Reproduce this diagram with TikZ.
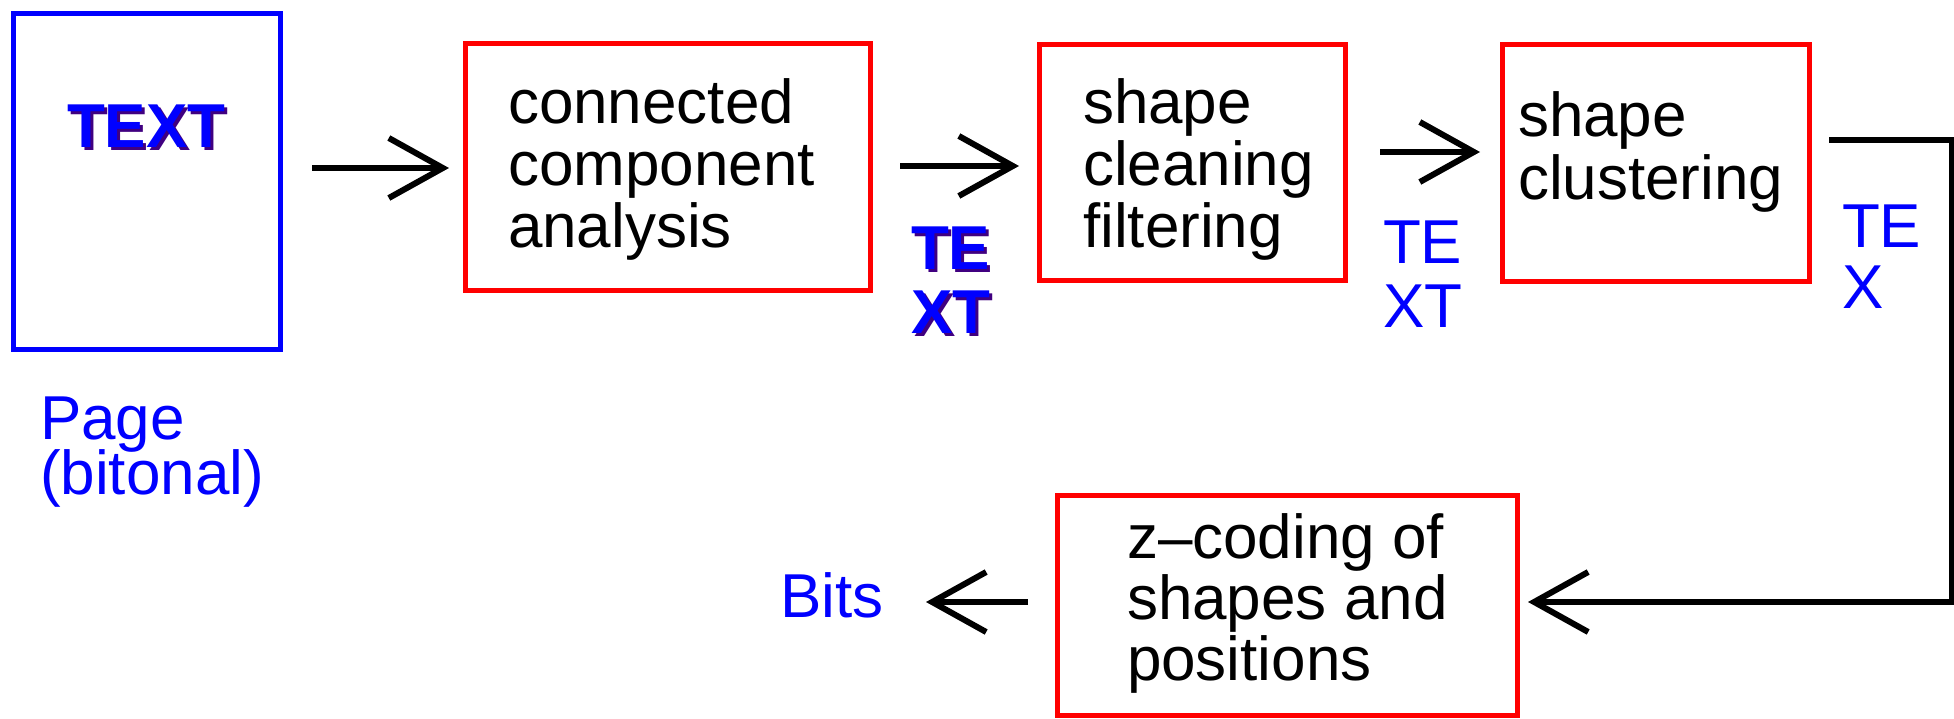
\documentclass[tikz,border=0pt]{standalone}
\usepackage{fontspec}
\setmainfont{Liberation Sans}
\usetikzlibrary{arrows.meta}
\definecolor{pblue}{RGB}{0,0,255}
\definecolor{pred}{RGB}{255,0,0}
\definecolor{pshadow}{RGB}{64,0,128}
\newcommand{\mlines}[2]{\vtop{\baselineskip=#1\lineskiplimit=-1000pt\lineskip=0pt\halign{##\hfil\cr#2\crcr}}}
\begin{document}
\begin{tikzpicture}[x=1pt,y=-1pt,
  box/.style={draw=pred,line width=5pt,inner sep=0pt,outer sep=0pt,rectangle},
  txt/.style={inner sep=0pt,outer sep=0pt,anchor=base west,font=\fontsize{62}{62}\selectfont},
  lbl/.style={txt,text=pblue},
  bold/.style={txt,font=\fontsize{62}{62}\selectfont\bfseries},
  arr/.style={line width=6pt,-{Straight Barb[length=54pt,width=60pt]}},
]
\useasboundingbox (0,0) rectangle (1954,718);
% page
\node[draw=pblue,line width=5pt,inner sep=0pt,outer sep=0pt,minimum width=266.5pt,minimum height=336.5pt] (page) at (146.75,181.25) {};
\node[bold,text=pshadow] (ptextsh) at (70,150) {TEXT};
\node[bold,text=pblue] (ptext) at (67,147) {TEXT};
\node[lbl] (pagelbl) at (40,439) {\mlines{55pt}{Page\cr (bitonal)}};
% boxes
\node[box,minimum width=405pt,minimum height=247pt] (b1) at (668,167) {};
\node[box,minimum width=306pt,minimum height=236pt] (b2) at (1192.5,162.5) {};
\node[box,minimum width=307pt,minimum height=237pt] (b3) at (1656,163) {};
\node[box,minimum width=460pt,minimum height=219.5pt] (b4) at (1287.5,605.25) {};
\node[txt] (t1) at (508,123) {\mlines{62pt}{connected\cr component\cr analysis}};
\node[txt] (t2) at (1083,123) {\mlines{62pt}{shape\cr cleaning\cr filtering}};
\node[txt] (t3) at (1518,136) {\mlines{63pt}{shape\cr clustering}};
\node[txt] (t4) at (1127,558) {\mlines{61pt}{z–coding of\cr shapes and\cr positions}};
% labels
\node[bold,text=pshadow] (l1sh) at (914,272) {\mlines{64pt}{TE\cr XT}};
\node[bold,text=pblue] (l1) at (911,269) {\mlines{64pt}{TE\cr XT}};
\node[lbl] (l2) at (1383,263) {\mlines{64pt}{TE\cr XT}};
\node[lbl] (l3) at (1842,247) {\mlines{61pt}{TE\cr X}};
\node[lbl] (bits) at (780,617) {Bits};
% connectors
\coordinate (a1s) at (312,168); \coordinate (a1e) at (449,168);
\coordinate (a2s) at (900,166); \coordinate (a2e) at (1019,166);
\coordinate (a3s) at (1380,152); \coordinate (a3e) at (1480,152);
\coordinate (c3s) at (1829,140); \coordinate (c3r) at (1952,602); \coordinate (c3e) at (1528,602);
\coordinate (a5s) at (1028,602); \coordinate (a5e) at (926,602);
\draw[arr] (a1s) -- (a1e);
\draw[arr] (a2s) -- (a2e);
\draw[arr] (a3s) -- (a3e);
\draw[arr] (c3s) -| (c3r) -- (c3e);
\draw[arr] (a5s) -- (a5e);
\end{tikzpicture}
\end{document}
